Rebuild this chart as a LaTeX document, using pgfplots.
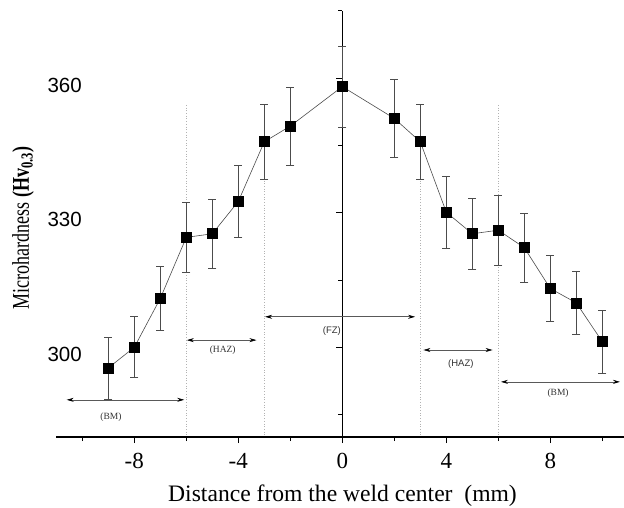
\documentclass[border=0pt]{standalone}
\usepackage{fontspec}
\setmainfont{Liberation Serif}
\setsansfont{Liberation Sans}
\usepackage{graphicx}
\usepackage{pgfplots}
\pgfplotsset{compat=1.18}
\usetikzlibrary{arrows.meta}
\begin{document}
\begin{tikzpicture}
\begin{axis}[
  at={(56.3pt,69.95pt)}, anchor=south west,
  scale only axis, width=568.1pt, height=426.3pt,
  xmin=-11, xmax=10.85, ymin=280, ymax=375,
  axis x line=bottom, axis y line=center,
  axis line style={-, line width=1.4pt, black},
  clip=false,
  xtick={-8,-4,0,4,8}, minor xtick={-10,-6,-2,2,6,10},
  ytick={300,330,360}, minor ytick={285,315,345,375},
  tick align=outside,
  major tick length=6pt, minor tick length=4pt,
  every tick/.style={black, line width=0.8pt},
  /pgf/number format/assume math mode=true,
  xticklabel style={font=\fontsize{23}{23}\selectfont, anchor=base, yshift=-25pt},
  yticklabel style={font=\sffamily\fontsize{20.5}{20.5}\selectfont, anchor=east, xshift=-251pt, yshift=-7pt},
  xlabel={Distance from the weld center~~(mm)},
  xlabel style={font=\fontsize{23.6}{23.6}\selectfont, at={(axis description cs:0.5038,-0.152)}, anchor=base},
  ylabel={\scalebox{0.75}[1]{Microhardness \textbf{(Hv\textsubscript{0.3})}}},
  ylabel style={font=\fontsize{24}{24}\selectfont, at={(axis description cs:-0.0586,0.49)}, anchor=center, rotate=90},
]
% vertical dotted boundaries
\addplot[gray!60, dotted, line width=0.7pt, forget plot] coordinates {(-6,354) (-6,280)};
\addplot[gray!60, dotted, line width=0.7pt, forget plot] coordinates {(-3,354) (-3,280)};
\addplot[gray!60, dotted, line width=0.7pt, forget plot] coordinates {(3,354) (3,280)};
\addplot[gray!60, dotted, line width=0.7pt, forget plot] coordinates {(6,354) (6,280)};
% region arrows
\draw[gray!70!black, line width=0.6pt, {Stealth[black,length=7pt,width=4pt]}-{Stealth[black,length=7pt,width=4pt]}] (axis cs:-10.6,288.3) -- (axis cs:-6.08,288.3);
\draw[gray!70!black, line width=0.6pt, {Stealth[black,length=7pt,width=4pt]}-{Stealth[black,length=7pt,width=4pt]}] (axis cs:-5.98,301.6) -- (axis cs:-3.3,301.6);
\draw[gray!70!black, line width=0.6pt, {Stealth[black,length=7pt,width=4pt]}-{Stealth[black,length=7pt,width=4pt]}] (axis cs:-2.97,306.8) -- (axis cs:2.8,306.8);
\draw[gray!70!black, line width=0.6pt, {Stealth[black,length=7pt,width=4pt]}-{Stealth[black,length=7pt,width=4pt]}] (axis cs:3.12,299.4) -- (axis cs:5.78,299.4);
\draw[gray!70!black, line width=0.6pt, {Stealth[black,length=7pt,width=4pt]}-{Stealth[black,length=7pt,width=4pt]}] (axis cs:6.1,292.3) -- (axis cs:10.68,292.3);
\node[font=\fontsize{9.5}{9.5}\selectfont, text=black!80] at (axis cs:-8.9,284.4) {(BM)};
\node[font=\fontsize{9.5}{9.5}\selectfont, text=black!80] at (axis cs:-4.6,299.4) {(HAZ)};
\node[font=\sffamily\fontsize{9.5}{9.5}\selectfont, text=black!80] at (axis cs:-0.4,303.6) {(FZ)};
\node[font=\sffamily\fontsize{9.5}{9.5}\selectfont, text=black!80] at (axis cs:4.56,296.2) {(HAZ)};
\node[font=\fontsize{9.5}{9.5}\selectfont, text=black!80] at (axis cs:8.3,289.75) {(BM)};
% data
\addplot[gray!60!black, line width=0.6pt, mark=square*, mark size=5pt,
  mark options={fill=black, draw=black, solid},
  error bars/.cd, y dir=both, y explicit,
  error bar style={gray!60!black, line width=0.7pt},
  error mark options={rotate=90, mark size=4pt, gray!60!black, line width=0.7pt}]
  coordinates {
  (-9,295.4) +- (0,6.9)
  (-8,300.0) +- (0,6.8)
  (-7,310.9) +- (0,7.2)
  (-6,324.5) +- (0,7.7)
  (-5,325.3) +- (0,7.7)
  (-4,332.5) +- (0,8.0)
  (-3,345.8) +- (0,8.3)
  (-2,349.3) +- (0,8.7)
  (0,358.1) +- (0,9.0)
  (2,351.0) +- (0,8.7)
  (3,345.8) +- (0,8.3)
  (4,330.1) +- (0,8.1)
  (5,325.3) +- (0,7.9)
  (6,326.1) +- (0,7.8)
  (7,322.2) +- (0,7.7)
  (8,313.1) +- (0,7.4)
  (9,309.9) +- (0,7.0)
  (10,301.25) +- (0,7.0)
  };
\end{axis}
\pgfresetboundingbox
\path[use as bounding box] (0,0) rectangle (624pt,507pt);
\end{tikzpicture}
\end{document}
